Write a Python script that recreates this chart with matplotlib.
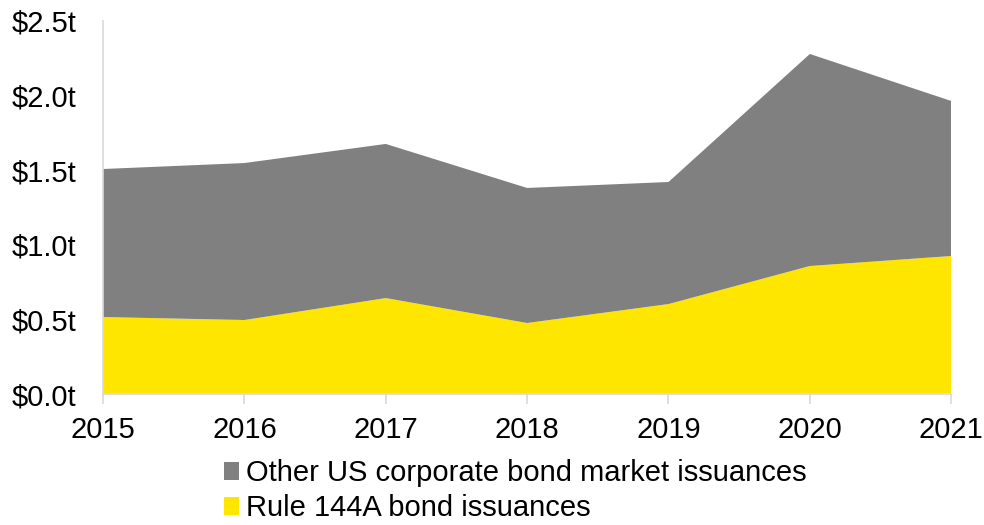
import matplotlib
matplotlib.use("Agg")
import matplotlib.pyplot as plt
from matplotlib.patches import Patch
from matplotlib.ticker import FuncFormatter

plt.rcParams['font.family'] = ['Liberation Sans', 'DejaVu Sans']

# US corporate bond issuance, trillions of dollars
years = [2015, 2016, 2017, 2018, 2019, 2020, 2021]
rule_144a = [0.516, 0.496, 0.643, 0.476, 0.603, 0.858, 0.925]
other_us = [0.992, 1.052, 1.033, 0.905, 0.818, 1.421, 1.039]

labels = ['Rule 144A bond issuances', 'Other US corporate bond market issuances']
colors = ['#FFE600', '#808080']

fig = plt.figure(figsize=(9.84, 5.25), dpi=100)
ax = fig.add_axes([0.1047, 0.2495, 0.862, 0.7105])

ax.stackplot(years, rule_144a, other_us, colors=colors, linewidth=0)

ax.set_xlim(2015, 2021)
ax.set_ylim(0, 2.5)
ax.set_xticks(years)
ax.set_yticks([0, 0.5, 1.0, 1.5, 2.0, 2.5])
ax.yaxis.set_major_formatter(FuncFormatter(lambda v, p: f'${v:.1f}t'))

for side in ['top', 'right']:
    ax.spines[side].set_visible(False)
for side in ['left', 'bottom']:
    ax.spines[side].set_color('#D9D9DE')
    ax.spines[side].set_linewidth(1.2)

ax.tick_params(axis='y', length=0, labelsize=21, pad=19)
ax.tick_params(axis='x', length=7, color='#D9D9DE', width=1.2,
               labelsize=21, pad=9, direction='out')

# legend lists the top layer first
handles = [Patch(facecolor=colors[1]), Patch(facecolor=colors[0])]
fig.legend(handles, labels[::-1], loc='upper left',
           bbox_to_anchor=(0.2276, 0.125), bbox_transform=fig.transFigure,
           frameon=False, fontsize=21, handlelength=0.52, handleheight=0.55,
           handletextpad=0.22, labelspacing=0.24, borderpad=0, borderaxespad=0)

fig.savefig('out.png', dpi=100)
